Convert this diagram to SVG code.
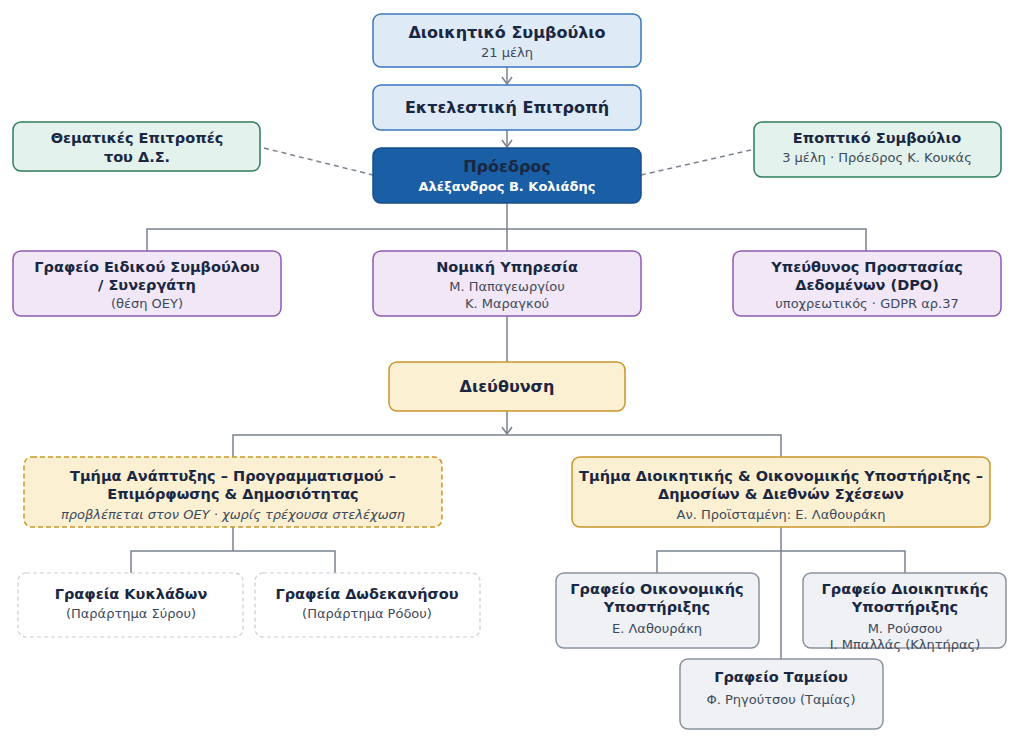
<svg xmlns="http://www.w3.org/2000/svg" width="1024" height="742" viewBox="0 0 1024 742">
<defs>
<marker id="arr" viewBox="0 0 12 12" refX="11" refY="6" markerWidth="12" markerHeight="12" markerUnits="userSpaceOnUse" orient="auto">
<path d="M4,1 L11,6 L4,11" fill="none" stroke="#7a8290" stroke-width="1.5"/>
</marker>
<style>
text{font-family:"DejaVu Sans","Noto Sans",sans-serif;text-anchor:middle;}
.t{font-weight:bold;font-size:16px;fill:#1a2742;}
.t2{font-weight:bold;font-size:14.5px;fill:#1a2742;}
.s{font-size:13px;fill:#3d4a5c;}
.blue{fill:#dfeaf7;stroke:#3a78bd;stroke-width:1.5;}
.dark{fill:#1a5ea6;stroke:#174d88;stroke-width:1.5;}
.green{fill:#e3f2ec;stroke:#2e7d5b;stroke-width:1.5;}
.purple{fill:#f1e7f6;stroke:#8e5bb0;stroke-width:1.5;}
.gold{fill:#fcf0d2;stroke:#c9962a;stroke-width:1.5;}
.golddash{fill:#fcf0d2;stroke:#c9962a;stroke-width:1.5;stroke-dasharray:5 3;}
.ghost{fill:#ffffff;stroke:#c8ccd2;stroke-width:1.2;stroke-dasharray:4 3;}
.gray{fill:#eff1f4;stroke:#8a929e;stroke-width:1.5;}
.ln{fill:none;stroke:#7a8290;stroke-width:1.5;}
.dash{fill:none;stroke:#7a8290;stroke-width:1.5;stroke-dasharray:5 4;}
</style>
</defs>
<rect width="1024" height="742" fill="#ffffff"/>
<g id="connectors">
<line class="ln" x1="507" y1="67" x2="507" y2="84" marker-end="url(#arr)"/>
<line class="ln" x1="507" y1="130" x2="507" y2="147" marker-end="url(#arr)"/>
<line class="dash" x1="264" y1="148" x2="373" y2="175"/>
<line class="dash" x1="641" y1="175" x2="751" y2="150"/>
<path class="ln" d="M507,203 V251 M147,251 V229 H866 V251"/>
<line class="ln" x1="507" y1="316" x2="507" y2="362"/>
<line class="ln" x1="507" y1="411" x2="507" y2="434" marker-end="url(#arr)"/>
<path class="ln" d="M233,457 V435 H781 V457"/>
<path class="ln" d="M233,527 V551 M131,573 V551 H335 V573"/>
<path class="ln" d="M781,527 V659 M657,573 V551 H905 V573"/>
</g>
<g id="board">
<rect class="blue" x="373" y="14" width="268" height="53" rx="8"/>
<text class="t" x="507" y="38">Διοικητικό Συμβούλιο</text>
<text class="s" x="507" y="57">21 μέλη</text>
</g>
<g id="exec">
<rect class="blue" x="373" y="85" width="268" height="45" rx="8"/>
<text class="t" x="507" y="113">Εκτελεστική Επιτροπή</text>
</g>
<g id="president">
<rect class="dark" x="373" y="148" width="268" height="55" rx="8"/>
<text class="t" x="507" y="172" fill="#1a2742">Πρόεδρος</text>
<text x="507" y="191" style="font-weight:bold;font-size:13px;fill:#ffffff">Αλέξανδρος Β. Κολιάδης</text>
</g>
<g id="thematic">
<rect class="green" x="13" y="122" width="247" height="49" rx="8"/>
<text class="t2" x="137" y="143">Θεματικές Επιτροπές</text>
<text class="t2" x="137" y="162">του Δ.Σ.</text>
</g>
<g id="supervisory">
<rect class="green" x="754" y="122" width="247" height="55" rx="8"/>
<text class="t2" x="877" y="143">Εποπτικό Συμβούλιο</text>
<text class="s" x="877" y="162">3 μέλη · Πρόεδρος Κ. Κουκάς</text>
</g>
<g id="advisor">
<rect class="purple" x="13" y="251" width="268" height="65" rx="8"/>
<text class="t2" x="147" y="272">Γραφείο Ειδικού Συμβούλου</text>
<text class="t2" x="147" y="290">/ Συνεργάτη</text>
<text class="s" x="147" y="308">(θέση ΟΕΥ)</text>
</g>
<g id="legal">
<rect class="purple" x="373" y="251" width="268" height="65" rx="8"/>
<text class="t2" x="507" y="272">Νομική Υπηρεσία</text>
<text class="s" x="507" y="291">Μ. Παπαγεωργίου</text>
<text class="s" x="507" y="308">Κ. Μαραγκού</text>
</g>
<g id="dpo">
<rect class="purple" x="733" y="251" width="268" height="65" rx="8"/>
<text class="t2" x="867" y="272">Υπεύθυνος Προστασίας</text>
<text class="t2" x="867" y="290">Δεδομένων (DPO)</text>
<text class="s" x="867" y="308">υποχρεωτικός · GDPR αρ.37</text>
</g>
<g id="direction">
<rect class="gold" x="389" y="362" width="236" height="49" rx="8"/>
<text class="t" x="507" y="392">Διεύθυνση</text>
</g>
<g id="dept-dev">
<rect class="golddash" x="24" y="457" width="418" height="70" rx="8"/>
<text class="t2" x="233" y="481">Τμήμα Ανάπτυξης – Προγραμματισμού –</text>
<text class="t2" x="233" y="499">Επιμόρφωσης &amp; Δημοσιότητας</text>
<text class="s" x="233" y="519" font-style="italic">προβλέπεται στον ΟΕΥ · χωρίς τρέχουσα στελέχωση</text>
</g>
<g id="dept-admin">
<rect class="gold" x="572" y="457" width="418" height="70" rx="8"/>
<text class="t2" x="781" y="481">Τμήμα Διοικητικής &amp; Οικονομικής Υποστήριξης –</text>
<text class="t2" x="781" y="499">Δημοσίων &amp; Διεθνών Σχέσεων</text>
<text class="s" x="781" y="519">Αν. Προϊσταμένη: Ε. Λαθουράκη</text>
</g>
<g id="cyclades">
<rect class="ghost" x="18" y="573" width="225" height="64" rx="8"/>
<text class="t2" x="131" y="599">Γραφεία Κυκλάδων</text>
<text class="s" x="131" y="618">(Παράρτημα Σύρου)</text>
</g>
<g id="dodecanese">
<rect class="ghost" x="255" y="573" width="225" height="64" rx="8"/>
<text class="t2" x="367" y="599">Γραφεία Δωδεκανήσου</text>
<text class="s" x="367" y="618">(Παράρτημα Ρόδου)</text>
</g>
<g id="finance">
<rect class="gray" x="556" y="573" width="203" height="75" rx="8"/>
<text class="t2" x="657" y="594">Γραφείο Οικονομικής</text>
<text class="t2" x="657" y="612">Υποστήριξης</text>
<text class="s" x="657" y="633">Ε. Λαθουράκη</text>
</g>
<g id="admin">
<rect class="gray" x="803" y="573" width="203" height="75" rx="8"/>
<text class="t2" x="905" y="594">Γραφείο Διοικητικής</text>
<text class="t2" x="905" y="612">Υποστήριξης</text>
<text class="s" x="905" y="633">Μ. Ρούσσου</text>
<text class="s" x="905" y="649">Ι. Μπαλλάς (Κλητήρας)</text>
</g>
<g id="treasury">
<rect class="gray" x="680" y="659" width="203" height="70" rx="8"/>
<text class="t2" x="781" y="682">Γραφείο Ταμείου</text>
<text class="s" x="781" y="704">Φ. Ρηγούτσου (Ταμίας)</text>
</g>
</svg>
